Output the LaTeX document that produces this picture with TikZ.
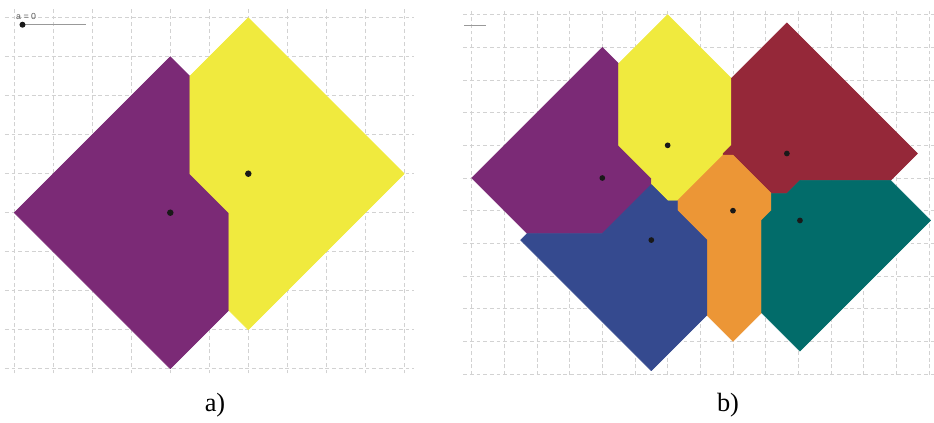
\documentclass[tikz,border=0pt]{standalone}
\usepackage{fontspec}
\setmainfont{Liberation Serif}
\setsansfont{Liberation Sans}
\usepackage{tikz}
\usetikzlibrary{positioning}
\definecolor{vPurple}{RGB}{123,42,118}
\definecolor{vYellow}{RGB}{240,234,62}
\definecolor{vRed}{RGB}{149,40,57}
\definecolor{vOrange}{RGB}{236,150,54}
\definecolor{vTeal}{RGB}{2,108,106}
\definecolor{vBlue}{RGB}{53,74,143}
\definecolor{gLine}{RGB}{210,210,210}

\begin{document}
\begin{tikzpicture}[
  gl/.style={draw=gLine,line width=0.5pt,dash pattern=on 2.2pt off 1.6pt},
  cell/.style={fill=#1,draw=#1,line width=0.3pt,line join=round},
  site/.style={circle,fill=black!90,inner sep=0pt,minimum size=#1},
  slid/.style={draw=gray!80,line width=0.7pt},
  lbl/.style={font=\fontsize{15}{18}\selectfont,inner sep=0pt}]
\useasboundingbox (0,0) rectangle (18.68,8.46);

% a) two sites
\begin{scope}[shift={(0.286,1.086)},x=0.78cm,y=0.78cm]
\foreach \i in {0,...,10} \draw[gl] (\i,-0.12) -- (\i,9.25);
\foreach \j in {0,...,9} \draw[gl] (-0.24,\j) -- (10.25,\j);
\fill[cell=vPurple] (4,8) -- (4.5,7.5) -- (4.5,5) -- (5.5,4) -- (5.5,1.5) -- (4,0) -- (0,4) -- cycle;
\fill[cell=vYellow] (6,9) -- (10,5) -- (6,1) -- (5.5,1.5) -- (5.5,4) -- (4.5,5) -- (4.5,7.5) -- cycle;
\node[site=0.13cm] (a1) at (4,4) {};
\node[site=0.13cm] (a2) at (6,5) {};
% slider
\coordinate (sa0) at (0.21,8.82);
\coordinate (sa1) at (1.85,8.82);
\draw[slid] (sa0) -- (sa1);
\node[site=0.12cm] (knob) at (sa0) {};
\node[font=\sffamily\fontsize{5}{6}\selectfont,text=gray!70!black,inner sep=0pt,anchor=south west] (aval) at (0.04,8.95) {a = 0};
\end{scope}

% b) six sites
\begin{scope}[shift={(9.433,0.98)},x=0.6533cm,y=0.6533cm]
\foreach \i in {0,...,14} \draw[gl] (\i,-0.03) -- (\i,11.12);
\foreach \j in {0,...,11} \draw[gl] (-0.26,\j) -- (14.2,\j);
\fill[cell=vPurple] (4,10) -- (4.5,9.5) -- (4.5,7) -- (5.5,6) -- (5.5,5.8) -- (4,4.3) -- (1.7,4.3) -- (0,6) -- cycle;
\fill[cell=vYellow] (6,11) -- (7.95,9.05) -- (7.95,7) -- (7.7,6.75) -- (7.7,6.7) -- (6.3,5.3) -- (6,5.3) -- (5.5,5.8) -- (5.5,6) -- (4.5,7) -- (4.5,9.5) -- cycle;
\fill[cell=vRed] (9.65,10.75) -- (13.65,6.75) -- (12.825,5.925) -- (10.05,5.925) -- (9.65,5.525) -- (9.175,5.525) -- (8,6.7) -- (7.7,6.7) -- (7.7,6.75) -- (7.95,7) -- (7.95,9.05) -- cycle;
\fill[cell=vOrange] (8,6.7) -- (9.175,5.525) -- (9.175,5) -- (8.875,4.7) -- (8.875,1.875) -- (8,1) -- (7.2,1.8) -- (7.2,4.1) -- (6.3,5) -- (6.3,5.3) -- (7.7,6.7) -- cycle;
\fill[cell=vTeal] (12.825,5.925) -- (14.05,4.7) -- (10.05,0.7) -- (8.875,1.875) -- (8.875,4.7) -- (9.175,5) -- (9.175,5.525) -- (9.65,5.525) -- (10.05,5.925) -- cycle;
\fill[cell=vBlue] (5.5,5.8) -- (6,5.3) -- (6.3,5.3) -- (6.3,5) -- (7.2,4.1) -- (7.2,1.8) -- (5.5,0.1) -- (1.5,4.1) -- (1.7,4.3) -- (4,4.3) -- cycle;
\foreach \n/\p in {b1/{4,6},b2/{6,7},b3/{9.65,6.75},b4/{8,5},b5/{10.05,4.7},b6/{5.5,4.1}}
  \node[site=0.115cm] (\n) at (\p) {};
% slider
\coordinate (sb0) at (-0.23,10.67);
\coordinate (sb1) at (0.44,10.67);
\draw[slid] (sb0) -- (sb1);
\end{scope}

\node[lbl] (capa) at (4.30,0.36) {a)};
\node[lbl] (capb) at (14.56,0.36) {b)};
\end{tikzpicture}
\end{document}
